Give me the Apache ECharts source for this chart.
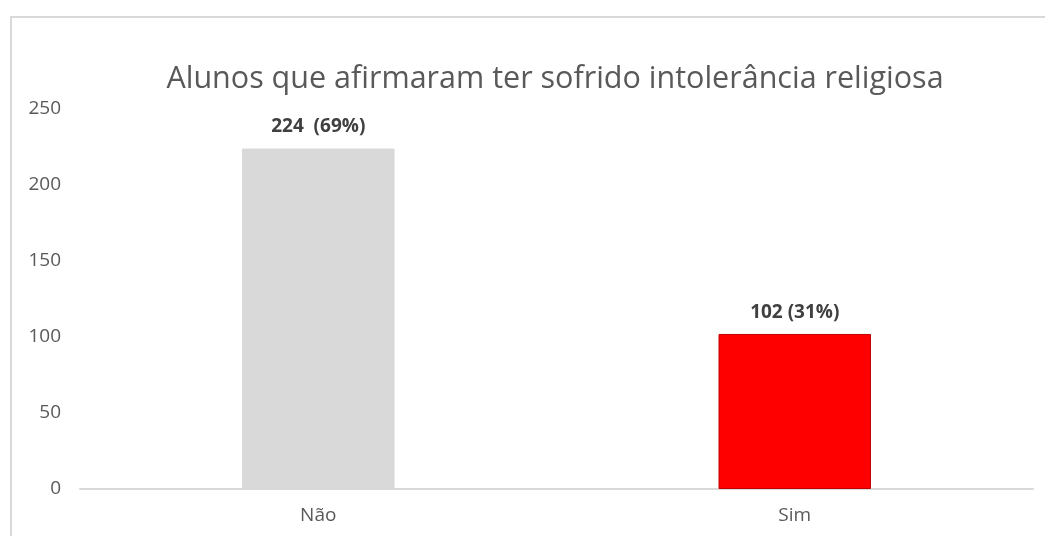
<!DOCTYPE html>
<html>
<head>
<meta charset="utf-8">
<script src="https://cdn.jsdelivr.net/npm/echarts@6/dist/echarts.min.js"></script>
<style>
  html, body { margin: 0; padding: 0; background: #fff; overflow: hidden; }
  #frame { position: absolute; left: 10px; top: 16px; width: 1100px; height: 600px; border: 2px solid #d9d9d9; box-sizing: border-box; }
  #main { position: absolute; left: 0; top: 0; width: 1045px; height: 536px; }
</style>
</head>
<body>
<div id="frame"></div>
<div id="main"></div>
<script>
const categories = ['Não', 'Sim']
const counts = [224, 102]
const percents = ['69%', '31%']
const barColors = ['#d9d9d9', '#ff0000']
const barBorders = ['#d9d9d9', '#c00000']

const chart = echarts.init(document.getElementById('main'))
const font = '"Open Sans", "Noto Sans", sans-serif'

chart.setOption({
  animation: false,
  title: {
    text: 'Alunos que afirmaram ter sofrido intolerância religiosa',
    left: 550,
    textAlign: 'center',
    top: 59,
    textStyle: { fontFamily: font, fontSize: 30.5, fontWeight: 'normal', color: '#595959' }
  },
  grid: { left: 80, right: 12, top: 109, bottom: 47 },
  xAxis: {
    type: 'category',
    data: categories,
    axisLine: { lineStyle: { color: '#d9d9d9', width: 2 } },
    axisTick: { show: false },
    axisLabel: { fontFamily: font, fontSize: 19, color: '#595959', margin: 17 }
  },
  yAxis: {
    type: 'value',
    min: 0,
    max: 250,
    interval: 50,
    splitLine: { show: false },
    axisLabel: { fontFamily: font, fontSize: 19, color: '#595959', margin: 19 }
  },
  series: [{
    type: 'bar',
    barWidth: '32%',
    data: counts.map((v, i) => ({
      value: v,
      itemStyle: { color: barColors[i], borderColor: barBorders[i], borderWidth: 1 }
    })),
    label: {
      show: true,
      position: 'top',
      distance: 12,
      fontFamily: font,
      fontSize: 19,
      fontWeight: 'bold',
      color: '#404040',
      formatter: p => p.value + (p.dataIndex === 0 ? '  ' : ' ') + '(' + percents[p.dataIndex] + ')'
    }
  }]
})
</script>
</body>
</html>
